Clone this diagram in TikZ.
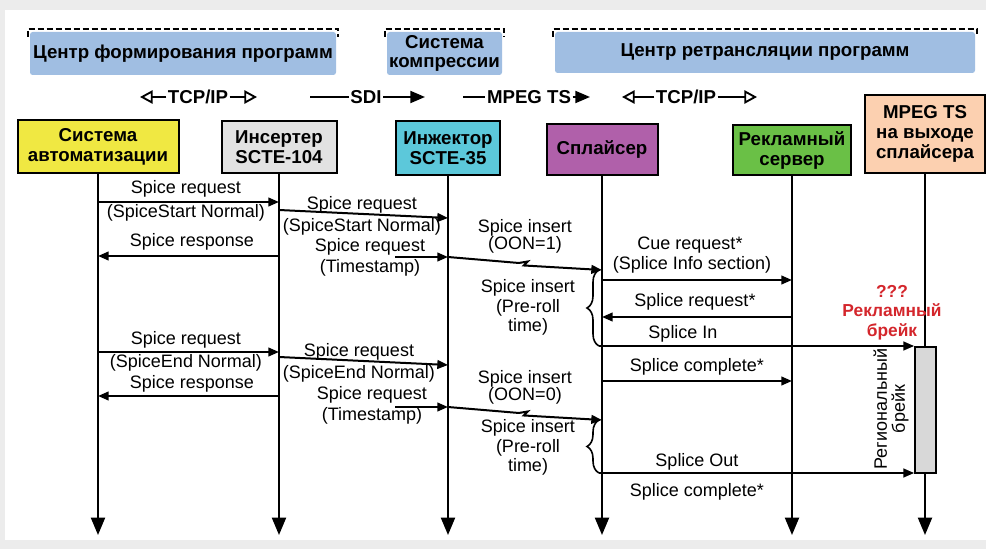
\documentclass[tikz,border=0pt]{standalone}
\usepackage{fontspec}
\setmainfont{Liberation Sans}
\usetikzlibrary{arrows.meta, positioning, calc, decorations.pathreplacing}

\definecolor{pagegrey}{RGB}{236,236,236}
\definecolor{autoyellow}{RGB}{240,232,66}
\definecolor{insgrey}{RGB}{226,226,226}
\definecolor{injcyan}{RGB}{92,200,218}
\definecolor{splpurple}{RGB}{176,96,170}
\definecolor{srvgreen}{RGB}{106,192,70}
\definecolor{outpeach}{RGB}{252,208,176}
\definecolor{grpblue}{RGB}{160,190,226}
\definecolor{barfill}{RGB}{216,216,216}
\definecolor{breakred}{RGB}{212,38,44}

\tikzset{
    seqdiagram/.style={x=0.75pt, y=-0.75pt},
    entity/.style={draw, line width=1.5pt, align=center, inner sep=1pt,
        font=\fontsize{14}{15}\selectfont\bfseries},
    group/.style={fill=grpblue, rounded corners=2pt, align=center, inner sep=1pt,
        font=\fontsize{14}{14.5}\selectfont\bfseries},
    grpline/.style={line width=1.4pt, dash pattern=on 4.5pt off 2.25pt},
    lifeline/.style={line width=1.5pt, -{Triangle[length=13pt, width=10.5pt]}},
    msg/.style={line width=1.5pt, -{Triangle[length=8pt, width=6.5pt]}},
    lbl/.style={align=center, inner sep=0pt, font=\fontsize{13.5}{12.75}\selectfont},
    iface/.style={inner sep=1pt, font=\fontsize{14}{15}\selectfont\bfseries},
    ifopen/.style={line width=1.4pt, -{Triangle[open, length=9.5pt, width=10pt]}},
    iffill/.style={line width=1.4pt, -{Triangle[length=11pt, width=9pt]}},
    brc/.style={line width=1.2pt, decorate, decoration={brace, amplitude=9pt}},
    breakbar/.style={draw, fill=barfill, line width=1.3pt, minimum width=15.75pt,
        minimum height=94.5pt, inner sep=0pt},
    redlbl/.style={align=center, inner sep=0pt, text=breakred,
        font=\fontsize{13}{14.6}\selectfont\bfseries},
    % lightning break in the middle of a connector
    bolt/.style={to path={-- ($(\tikztostart)!0.46!(\tikztotarget)$) -- ++(9,-1.5)
        -- ++(-4,4) -- (\tikztotarget) \tikztonodes}},
}

\begin{document}
\begin{tikzpicture}[seqdiagram]
    \useasboundingbox (0,0) rectangle (986,549);
    \fill[pagegrey] (0,0) rectangle (986,549);
    \fill[white] (5,10) rectangle (986,540);

    % groups
    \node[group, minimum width=229.5pt, minimum height=32.25pt] (gform) at (183,53.5) {Центр формирования программ};
    \node[group, minimum width=86.25pt, minimum height=32.25pt] (gcomp) at (444.5,53.5) {Система\\компрессии};
    \node[group, minimum width=315pt, minimum height=30.75pt] (gretr) at (765,52.5) {Центр ретрансляции программ};
    \foreach \g in {gform,gcomp,gretr}
        \draw[grpline] ([shift={(-2,5)}]\g.north west) -- ([shift={(-2,-3)}]\g.north west)
            -- ([shift={(2,-3)}]\g.north east) -- ([shift={(2,5)}]\g.north east);

    % interfaces
    \node[iface] (tcpA) at (198,97) {TCP/IP};
    \node[iface] (sdi)  at (366,97) {SDI};
    \node[iface] (mts)  at (529,97) {MPEG TS};
    \node[iface] (tcpB) at (686,97) {TCP/IP};
    \coordinate (tcpAl) at (140,97);
    \coordinate (tcpAr) at (257,97);
    \coordinate (sdil)  at (310,97);
    \coordinate (sdir)  at (425,97);
    \coordinate (mtsl)  at (463,97);
    \coordinate (mtsr)  at (590,97);
    \coordinate (tcpBl) at (622,97);
    \coordinate (tcpBr) at (757,97);
    \draw[ifopen] (tcpA.west) -- (tcpAl);
    \draw[ifopen] (tcpA.east) -- (tcpAr);
    \draw[line width=1.4pt] (sdil) -- (sdi.west);
    \draw[iffill] (sdi.east) -- (sdir);
    \draw[line width=1.4pt] (mtsl) -- (mts.west);
    \draw[iffill] (mts.east) -- (mtsr);
    \draw[ifopen] (tcpB.west) -- (tcpBl);
    \draw[ifopen] (tcpB.east) -- (tcpBr);

    % participants
    \node[entity, fill=autoyellow, minimum width=120.75pt, minimum height=39.75pt] (auto) at (98,146.5) {Система\\автоматизации};
    \node[entity, fill=insgrey, minimum width=86.25pt, minimum height=39pt] (ins) at (279,147) {Инсертер\\SCTE-104};
    \node[entity, fill=injcyan, minimum width=78pt, minimum height=40.5pt] (inj) at (448,148) {Инжектор\\SCTE-35};
    \node[entity, fill=splpurple, minimum width=83.25pt, minimum height=38.25pt] (spl) at (602,149.5) {Сплайсер};
    \node[entity, fill=srvgreen, minimum width=88.5pt, minimum height=37.5pt] (srv) at (792,150) {Рекламный\\сервер};
    \node[entity, fill=outpeach, minimum width=90pt, minimum height=58.5pt] (out) at (925,134) {MPEG TS\\на выходе\\сплайсера};

    % lifelines
    \coordinate (tend) at (0,535);
    \foreach \e in {auto,ins,inj,spl,srv,out}
        \draw[lifeline] (\e) -- (\e |- tend);

    \node[breakbar] (bar) at (925.5,410) {};

    % time levels
    \foreach \n/\y in {t1/202, t2a/210, t2b/218, t3/256, t4/257, t4b/270, t5/280,
                       t6/317, t7/346, t8/352, t9a/357, t9b/365, t10/396, t11/407,
                       t11b/420, t12/381, t13/473}
        \coordinate (\n) at (0,\y);
    \coordinate (m4s)  at (395,257);
    \coordinate (m11s) at (395,407);

    % start of break
    \draw[msg] (auto |- t1) -- (ins |- t1);
    \draw[msg] (ins |- t2a) -- (inj |- t2b);
    \draw[msg] (ins |- t3) -- (auto |- t3);
    \draw[msg] (m4s) -- (inj |- t4);
    \draw[msg, bolt] (inj |- t4) to (spl |- t4b);
    \draw[msg] (spl |- t5) -- (srv |- t5);
    \draw[msg] (srv |- t6) -- (spl |- t6);
    \draw[brc] ([xshift=-2.25pt]spl |- t7) -- ([xshift=-2.25pt]spl |- t4b);
    \draw[msg] ([xshift=-2.25pt]spl |- t7) -- (bar.west |- t7);

    % end of break
    \draw[msg] (auto |- t8) -- (ins |- t8);
    \draw[msg] (ins |- t9a) -- (inj |- t9b);
    \draw[msg] (ins |- t10) -- (auto |- t10);
    \draw[msg] (m11s) -- (inj |- t11);
    \draw[msg, bolt] (inj |- t11) to (spl |- t11b);
    \draw[msg] (spl |- t12) -- (srv |- t12);
    \draw[brc] ([xshift=-2.25pt]spl |- t13) -- ([xshift=-2.25pt]spl |- t11b);
    \draw[msg] ([xshift=-2.25pt]spl |- t13) -- (bar.west |- t13);

    % labels
    \node[lbl] (l1a) at (186,189) {Spice request};
    \node[lbl] (l1b) at (186,213) {(SpiceStart Normal)};
    \node[lbl] (l2a) at (362,205) {Spice request};
    \node[lbl] (l2b) at (362,227) {(SpiceStart Normal)};
    \node[lbl] (l3)  at (192,242) {Spice response};
    \node[lbl] (l4a) at (370,247) {Spice request};
    \node[lbl] (l4b) at (370,268) {(Timestamp)};
    \node[lbl] (l5)  at (525,236.5) {Spice insert\\(OON=1)};
    \node[lbl, font=\fontsize{13.5}{14.6}\selectfont] (l6) at (528,307.5) {Spice insert\\(Pre-roll\\time)};
    \node[lbl] (l7a) at (690,245) {Cue request*};
    \node[lbl] (l7b) at (692,265) {(Splice Info section)};
    \node[lbl] (l8)  at (695,302) {Splice request*};
    \node[lbl] (l9)  at (683,334) {Splice In};

    \node[lbl] (l10a) at (186,340) {Spice request};
    \node[lbl] (l10b) at (186,363) {(SpiceEnd Normal)};
    \node[lbl] (l11a) at (359,352) {Spice request};
    \node[lbl] (l11b) at (359,374) {(SpiceEnd Normal)};
    \node[lbl] (l12)  at (192,384) {Spice response};
    \node[lbl] (l13a) at (372,395) {Spice request};
    \node[lbl] (l13b) at (372,416) {(Timestamp)};
    \node[lbl] (l14)  at (525,387.5) {Spice insert\\(OON=0)};
    \node[lbl, font=\fontsize{13.5}{14.6}\selectfont] (l15) at (528,447.5) {Spice insert\\(Pre-roll\\time)};
    \node[lbl] (l16) at (697,367) {Splice complete*};
    \node[lbl] (l17) at (697,462) {Splice Out};
    \node[lbl] (l18) at (697,492) {Splice complete*};

    \node[redlbl] (adbrk) at (892,312.5) {???\\Рекламный\\брейк};
    \node[lbl, rotate=90, font=\fontsize{13.5}{13.5}\selectfont] (regbrk) at (891,409) {Региональный\\брейк};
\end{tikzpicture}
\end{document}
